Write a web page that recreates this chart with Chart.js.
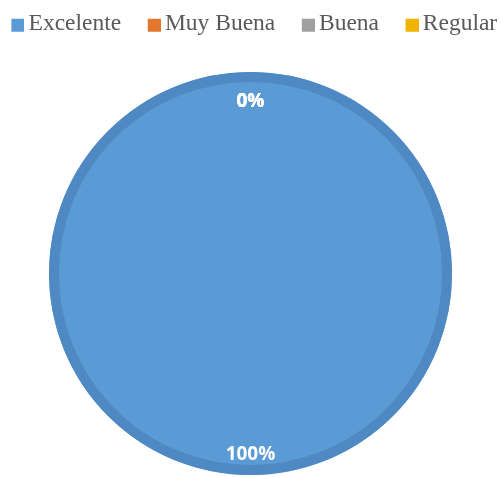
<!DOCTYPE html>
<html>
<head>
<meta charset="utf-8">
<script src="https://cdn.jsdelivr.net/npm/chart.js@4.4.1/dist/chart.umd.min.js"></script>
<style>
  html, body { margin: 0; padding: 0; background: #ffffff; }
  #wrap { position: relative; width: 501px; height: 477px; }
</style>
</head>
<body>
<div id="wrap"><canvas id="c" width="501" height="477"></canvas></div>
<script>
const categories = ['Excelente', 'Muy Buena', 'Buena', 'Regular'];
const values = [100, 0, 0, 0];
const sliceColors = ['#5B9BD5', '#E3772E', '#A0A0A0', '#F0B400'];
const ringColor = '#4F89C3';

// legend marker: a 13px square placed near the text
function markerFor(color) {
  const cv = document.createElement('canvas');
  cv.width = 28; cv.height = 18;
  const g = cv.getContext('2d');
  g.fillStyle = color;
  g.fillRect(15, 4, 13, 13);
  return cv;
}

const legendSpacer = {
  id: 'legendSpacer',
  beforeInit(chart) {
    const lg = chart.legend;
    if (!lg) return;
    const fit = lg.fit;
    lg.fit = function () {
      fit.call(this);
      this.height = 79;
    };
  }
};

const ringAndLabels = {
  id: 'ringAndLabels',
  afterDatasetsDraw(chart) {
    const ctx = chart.ctx;
    const meta = chart.getDatasetMeta(0);
    const data = chart.data.datasets[0].data;
    const total = data.reduce((a, b) => a + b, 0);
    const first = meta.data[0];
    const cx = first.x, cy = first.y, r = first.outerRadius;
    ctx.save();
    ctx.beginPath();
    ctx.arc(cx, cy, r - 5, 0, Math.PI * 2);
    ctx.lineWidth = 10;
    ctx.strokeStyle = ringColor;
    ctx.stroke();
    ctx.restore();
    ctx.save();
    ctx.font = 'bold 19px "Open Sans", "Liberation Sans", sans-serif';
    ctx.fillStyle = '#ffffff';
    ctx.textAlign = 'center';
    ctx.textBaseline = 'middle';
    meta.data.forEach((arc, i) => {
      const pct = Math.round(data[i] / total * 100);
      const mid = (arc.startAngle + arc.endAngle) / 2;
      const up = Math.sin(mid) < 0;
      const d = arc.outerRadius - (up ? 30 : 20);
      const x = arc.x + Math.cos(mid) * d;
      const y = arc.y + Math.sin(mid) * d;
      ctx.fillText(pct + '%', x, y);
    });
    ctx.restore();
  }
};

const baseGen = Chart.overrides.pie.plugins.legend.labels.generateLabels;

new Chart(document.getElementById('c'), {
  type: 'pie',
  data: {
    labels: categories,
    datasets: [{
      data: values,
      backgroundColor: sliceColors,
      borderWidth: 0
    }]
  },
  options: {
    responsive: false,
    animation: false,
    layout: { padding: { top: -7, left: -16, right: -16, bottom: 2 } },
    plugins: {
      tooltip: { enabled: false },
      legend: {
        display: true,
        position: 'top',
        labels: {
          boxWidth: 13,
          boxHeight: 13,
          usePointStyle: true,
          padding: 19,
          color: '#595959',
          font: { family: '"Liberation Serif", "Times New Roman", serif', size: 23.5 },
          generateLabels(chart) {
            const items = baseGen(chart);
            items.forEach((it, i) => { it.pointStyle = markerFor(sliceColors[i]); });
            return items;
          }
        }
      }
    }
  },
  plugins: [legendSpacer, ringAndLabels]
});
</script>
</body>
</html>
